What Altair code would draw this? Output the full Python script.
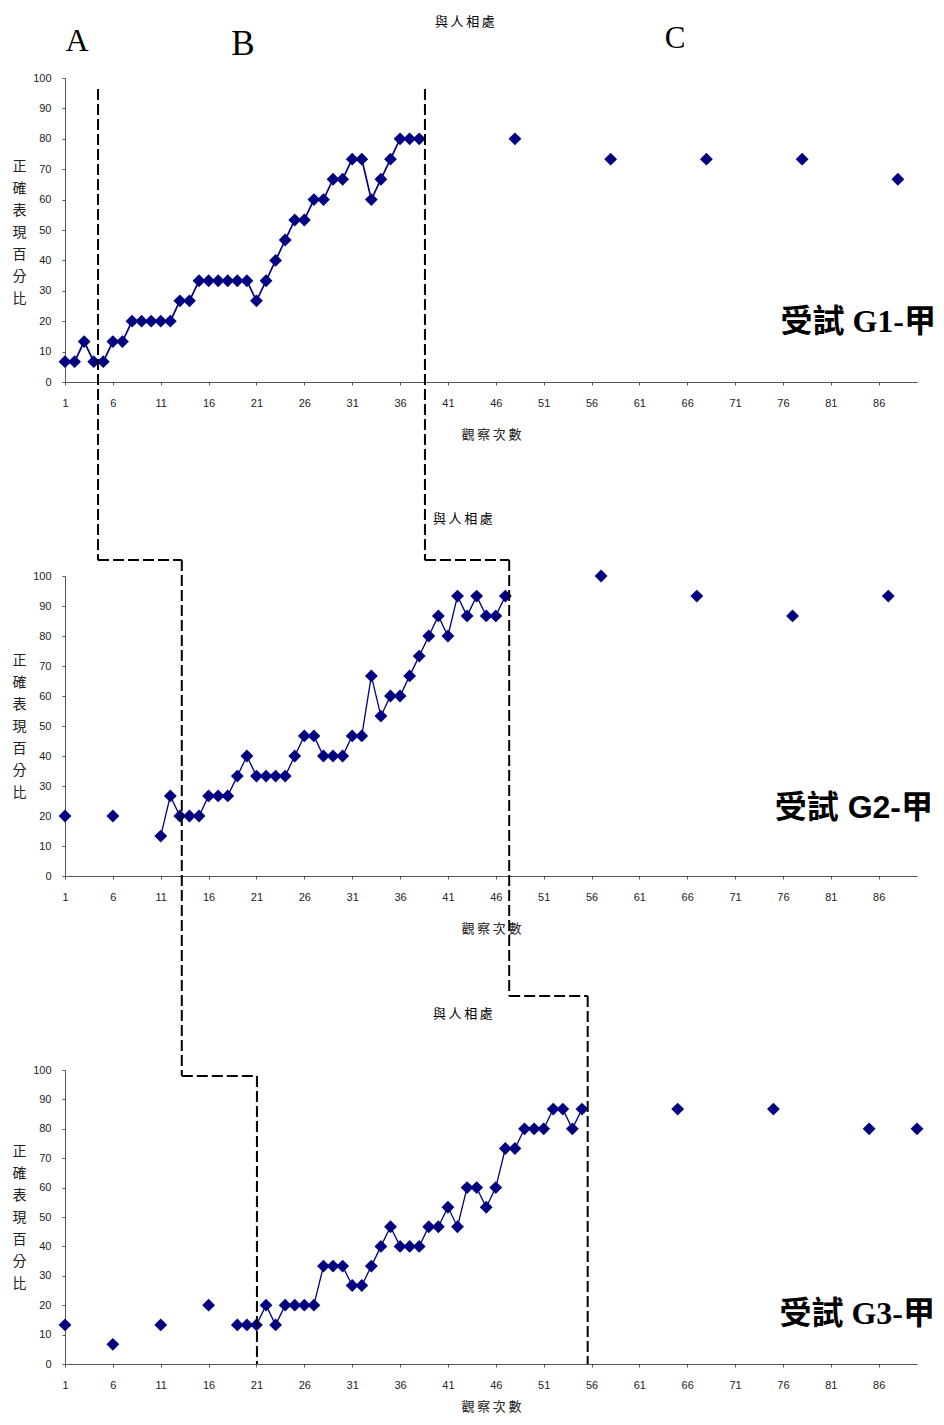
import altair as alt
import pandas as pd

NAVY = "#000080"

# ---------------- data (percent correct per observation session) ----------------
# G1
g1_base_session = [1, 2, 3, 4]
g1_base_pct = [6.7, 6.7, 13.3, 6.7]
g1_int_session = list(range(5, 39))
g1_int_pct = [6.7, 13.3, 13.3, 20, 20, 20, 20, 20, 26.7, 26.7, 33.3, 33.3, 33.3,
              33.3, 33.3, 33.3, 26.7, 33.3, 40, 46.7, 53.3, 53.3, 60, 60, 66.7,
              66.7, 73.3, 73.3, 60, 66.7, 73.3, 80, 80, 80]
g1_mnt_session = [48, 58, 68, 78, 88]
g1_mnt_pct = [80, 73.3, 73.3, 73.3, 66.7]

# G2
g2_base_session = [1, 6, 11, 12, 13]
g2_base_pct = [20, 20, 13.3, 26.7, 20]
g2_int_session = list(range(14, 48))
g2_int_pct = [20, 20, 26.7, 26.7, 26.7, 33.3, 40, 33.3, 33.3, 33.3, 33.3, 40,
              46.7, 46.7, 40, 40, 40, 46.7, 46.7, 66.7, 53.3, 60, 60, 66.7, 73.3,
              80, 86.7, 80, 93.3, 86.7, 93.3, 86.7, 86.7, 93.3]
g2_mnt_session = [57, 67, 77, 87]
g2_mnt_pct = [100, 93.3, 86.7, 93.3]

# G3
g3_base_session = [1, 6, 11, 16, 19, 20, 21]
g3_base_pct = [13.3, 6.7, 13.3, 20, 13.3, 13.3, 13.3]
g3_int_session = list(range(22, 56))
g3_int_pct = [20, 13.3, 20, 20, 20, 20, 33.3, 33.3, 33.3, 26.7, 26.7, 33.3, 40,
              46.7, 40, 40, 40, 46.7, 46.7, 53.3, 46.7, 60, 60, 53.3, 60, 73.3,
              73.3, 80, 80, 80, 86.7, 86.7, 80, 86.7]
g3_mnt_session = [65, 75, 85, 90]
g3_mnt_pct = [86.7, 86.7, 80, 80]

x_ticks = list(range(1, 90, 5))
y_ticks = list(range(0, 101, 10))
y_title = ["正", "確", "表", "現", "百", "分", "比"]
x_title = "觀\u2009察\u2009次\u2009數"
setting_label = "與\u2009人\u2009相\u2009處"

# phase-change connector (dashed step line), in each panel's own session/percent units
p1_phase_session = [4.45, 4.45, 38.6, 38.6]
p1_phase_pct = [96.4, -58.6, 96.4, -58.6]
p2_phase_session = [4.45, 13.2, 13.2, 13.2, 38.6, 47.4, 47.4, 47.4, 47.4, 55.6]
p2_phase_pct = [105.3, 105.3, 105.3, -66.7, 105.3, 105.3, 105.3, -40, -40, -40]
p3_phase_session = [13.2, 21.05, 21.05, 21.05, 55.6, 55.6]
p3_phase_pct = [98.0, 98.0, 98.0, 0, 125.2, 0]


def series_df(sessions, values):
    seg, s, prev = [], 0, None
    for x in sessions:
        if prev is not None and x - prev > 1:
            s += 1
        seg.append(s)
        prev = x
    return pd.DataFrame({"session": sessions, "pct": values, "seg": seg})


def segs_df(xs, ys):
    return pd.DataFrame({"session": xs[0::2], "session_end": xs[1::2],
                         "pct": ys[0::2], "pct_end": ys[1::2]})


def text_layer(t, x, y, size, font, weight="normal", align="left"):
    return alt.Chart(pd.DataFrame({"t": [t]})).mark_text(
        font=font, fontSize=size, fontWeight=weight, align=align,
        baseline="alphabetic", color="black"
    ).encode(text="t:N", x=alt.value(x), y=alt.value(y))


def panel(sessions, values, phase_x, phase_y, h, line_w, title_pad, title_y,
          extra_layers):
    df = series_df(sessions, values)
    X = alt.X("session:Q",
              scale=alt.Scale(domain=[1, 90], nice=False, zero=False),
              axis=alt.Axis(values=x_ticks, title=x_title, labelPadding=12,
                            titlePadding=title_pad, tickSize=3,
                            labelFlush=False, labelOverlap=False))
    Y = alt.Y("pct:Q",
              scale=alt.Scale(domain=[0, 100], nice=False),
              axis=alt.Axis(values=y_ticks, title=y_title, titleAngle=0,
                            titleX=-46, titleY=title_y, titleAlign="center",
                            titleBaseline="middle", titleLineHeight=22,
                            titleFontSize=14, tickSize=3, labelPadding=11))
    line = alt.Chart(df).mark_line(color=NAVY, strokeWidth=line_w).encode(
        x=X, y=Y, detail="seg:N")
    pts = alt.Chart(df).mark_point(shape="diamond", filled=True, size=165,
                                   color=NAVY, opacity=1).encode(x=X, y=Y)
    rules = alt.Chart(segs_df(phase_x, phase_y)).mark_rule(
        color="black", strokeWidth=2, strokeDash=[11, 4]
    ).encode(x=X, x2="session_end:Q", y=Y, y2="pct_end:Q")
    return alt.layer(line, pts, rules, *extra_layers).properties(width=852, height=h)


CJK = "Noto Sans CJK TC"
SERIF_CJK = "Liberation Serif, Noto Sans CJK TC"
SANS_CJK = "Liberation Sans, Noto Sans CJK TC"

p1 = panel(
    g1_base_session + g1_int_session + g1_mnt_session,
    g1_base_pct + g1_int_pct + g1_mnt_pct,
    p1_phase_session, p1_phase_pct, 304, 1.7, 20, 88,
    [text_layer("A", 12, -27, 32, "Liberation Serif", align="center"),
     text_layer("B", 178, -23, 35, "Liberation Serif", align="center"),
     text_layer("C", 610, -30, 31, "Liberation Serif", align="center"),
     text_layer(setting_label, 370, -52, 13, CJK),
     text_layer("受試 G1-甲", 871, 254, 32, SERIF_CJK, weight="bold", align="right")])

p2 = panel(
    g2_base_session + g2_int_session + g2_mnt_session,
    g2_base_pct + g2_int_pct + g2_mnt_pct,
    p2_phase_session, p2_phase_pct, 300, 1.3, 20, 84,
    [text_layer(setting_label, 368, -53, 13, CJK),
     text_layer("受試 G2-甲", 868, 242, 32, SANS_CJK, weight="bold", align="right")])

p3 = panel(
    g3_base_session + g3_int_session + g3_mnt_session,
    g3_base_pct + g3_int_pct + g3_mnt_pct,
    p3_phase_session, p3_phase_pct, 294, 1.3, 10, 81,
    [text_layer(setting_label, 368, -52, 13, CJK),
     text_layer("受試 G3-甲", 870, 254, 32, SERIF_CJK, weight="bold", align="right")])

chart = alt.vconcat(p1, p2, p3, spacing=194, bounds="flush").properties(
    padding={"left": 4, "top": 8, "right": 0, "bottom": 0}
).configure_view(stroke=None).configure_axis(
    grid=False,
    domainColor="#555", tickColor="#555",
    labelFont="Liberation Sans", labelFontSize=11, labelColor="#222",
    titleFont=CJK, titleFontSize=13, titleFontWeight="normal", titleColor="#222",
)

chart.save("out.html", embed_options={"renderer": "svg", "actions": False})
